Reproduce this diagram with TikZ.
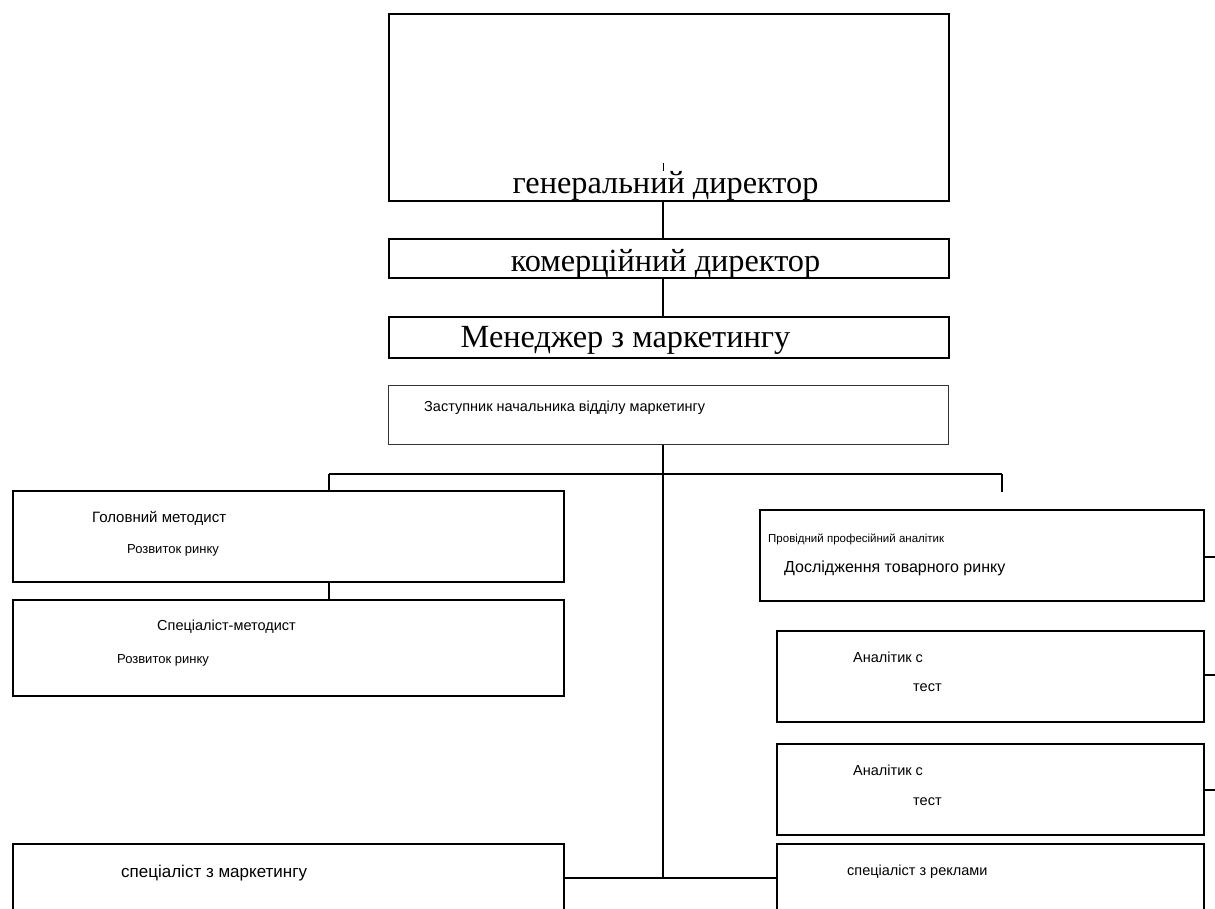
\documentclass[tikz,border=0pt]{standalone}
\usepackage{fontspec}
\setmainfont{Liberation Serif}
\newfontfamily\arialf{Liberation Sans}
\begin{document}
\begin{tikzpicture}[x=1pt,y=-1pt,
  box/.style={draw, line width=1.6pt, inner sep=0pt, anchor=north west},
  thinbox/.style={draw, line width=0.9pt, inner sep=0pt, anchor=north west, draw=black!80},
  conn/.style={line width=1.6pt},
  txt/.style={anchor=west, inner sep=0pt},
  big/.style={txt, font=\fontsize{32.3}{36}\selectfont},
  sml/.style={txt, font=\arialf\fontsize{14.5}{17}\selectfont},
  rzv/.style={txt, font=\arialf\fontsize{13}{15}\selectfont}
]
\useasboundingbox (0,0) rectangle (1215,908);
\clip (0,0) rectangle (1215,908);
\coordinate (vx) at (663,0);
% top chain
\node[box, minimum width=560pt, minimum height=187pt] (gd) at (388,13) {};
\node[box, minimum width=560pt, minimum height=39pt] (kd) at (388,238) {};
\node[box, minimum width=560pt, minimum height=41pt] (mm) at (388,316) {};
\node[thinbox, minimum width=560pt, minimum height=59pt] (zn) at (388,385) {};
\node[big, anchor=base] (tgd) at (665.5,193) {генеральний директор};
\node[big, anchor=base] (tkd) at (665.5,271) {комерційний директор};
\node[big, anchor=base] (tmm) at (625.5,347) {Менеджер з маркетингу};
\node[sml] (tzn) at (424,408) {Заступник начальника відділу маркетингу};
\coordinate (tick1) at (663,163);
\coordinate (tick2) at (663,171);
\draw[line width=1pt] (tick1) -- (tick2);
\draw[conn] (gd.south -| vx) -- (kd.north -| vx);
\draw[conn] (kd.south -| vx) -- (mm.north -| vx);
% left boxes
\node[box, minimum width=551pt, minimum height=91pt] (gm) at (12,490) {};
\node[box, minimum width=551pt, minimum height=96pt] (sm) at (12,599) {};
\node[box, minimum width=551pt, minimum height=110pt] (spm) at (12,843) {};
\node[txt, font=\arialf\fontsize{15}{17}\selectfont] (tgm1) at (92,518) {Головний методист};
\node[rzv] (tgm2) at (127,550) {Розвиток ринку};
\node[sml] (tsm1) at (157,627) {Спеціаліст-методист};
\node[rzv] (tsm2) at (117,660) {Розвиток ринку};
\node[txt, font=\arialf\fontsize{17}{20}\selectfont] (tspm) at (121,873) {спеціаліст з маркетингу};
% right boxes
\node[box, minimum width=444pt, minimum height=91pt] (pa) at (759,509) {};
\node[box, minimum width=427pt, minimum height=91pt] (an1) at (776,630) {};
\node[box, minimum width=427pt, minimum height=91pt] (an2) at (776,743) {};
\node[box, minimum width=427pt, minimum height=110pt] (sr) at (776,843) {};
\node[txt, font=\arialf\fontsize{11.5}{13}\selectfont] (tpa1) at (768,539) {Провідний професійний аналітик};
\node[txt, font=\arialf\fontsize{16}{19}\selectfont] (tpa2) at (784,568) {Дослідження товарного ринку};
\node[sml] (tan1a) at (853,657) {Аналітик с};
\node[sml] (tan1b) at (913,688) {тест};
\node[sml] (tan2a) at (853,770) {Аналітик с};
\node[sml] (tan2b) at (913,802) {тест};
\node[sml] (tsr) at (847,872) {спеціаліст з реклами};
% connectors
\coordinate (hl) at (329,474);
\coordinate (hr) at (1002,474);
\coordinate (hrend) at (1002,492);
\coordinate (bj) at (663,878);
\draw[conn] (zn.south -| vx) -- (bj);
\draw[conn] (hl) -- (hr);
\draw[conn] (hl) -- (hl |- gm.north);
\draw[conn] (hr) -- (hrend);
\draw[conn] (gm.south -| hl) -- (sm.north -| hl);
\draw[conn] (spm.east |- bj) -- (sr.west |- bj);
\coordinate (e1) at (1215,557);
\coordinate (e2) at (1215,675);
\coordinate (e3) at (1215,790);
\draw[conn] (pa.east |- e1) -- (e1);
\draw[conn] (an1.east |- e2) -- (e2);
\draw[conn] (an2.east |- e3) -- (e3);
\end{tikzpicture}
\end{document}
